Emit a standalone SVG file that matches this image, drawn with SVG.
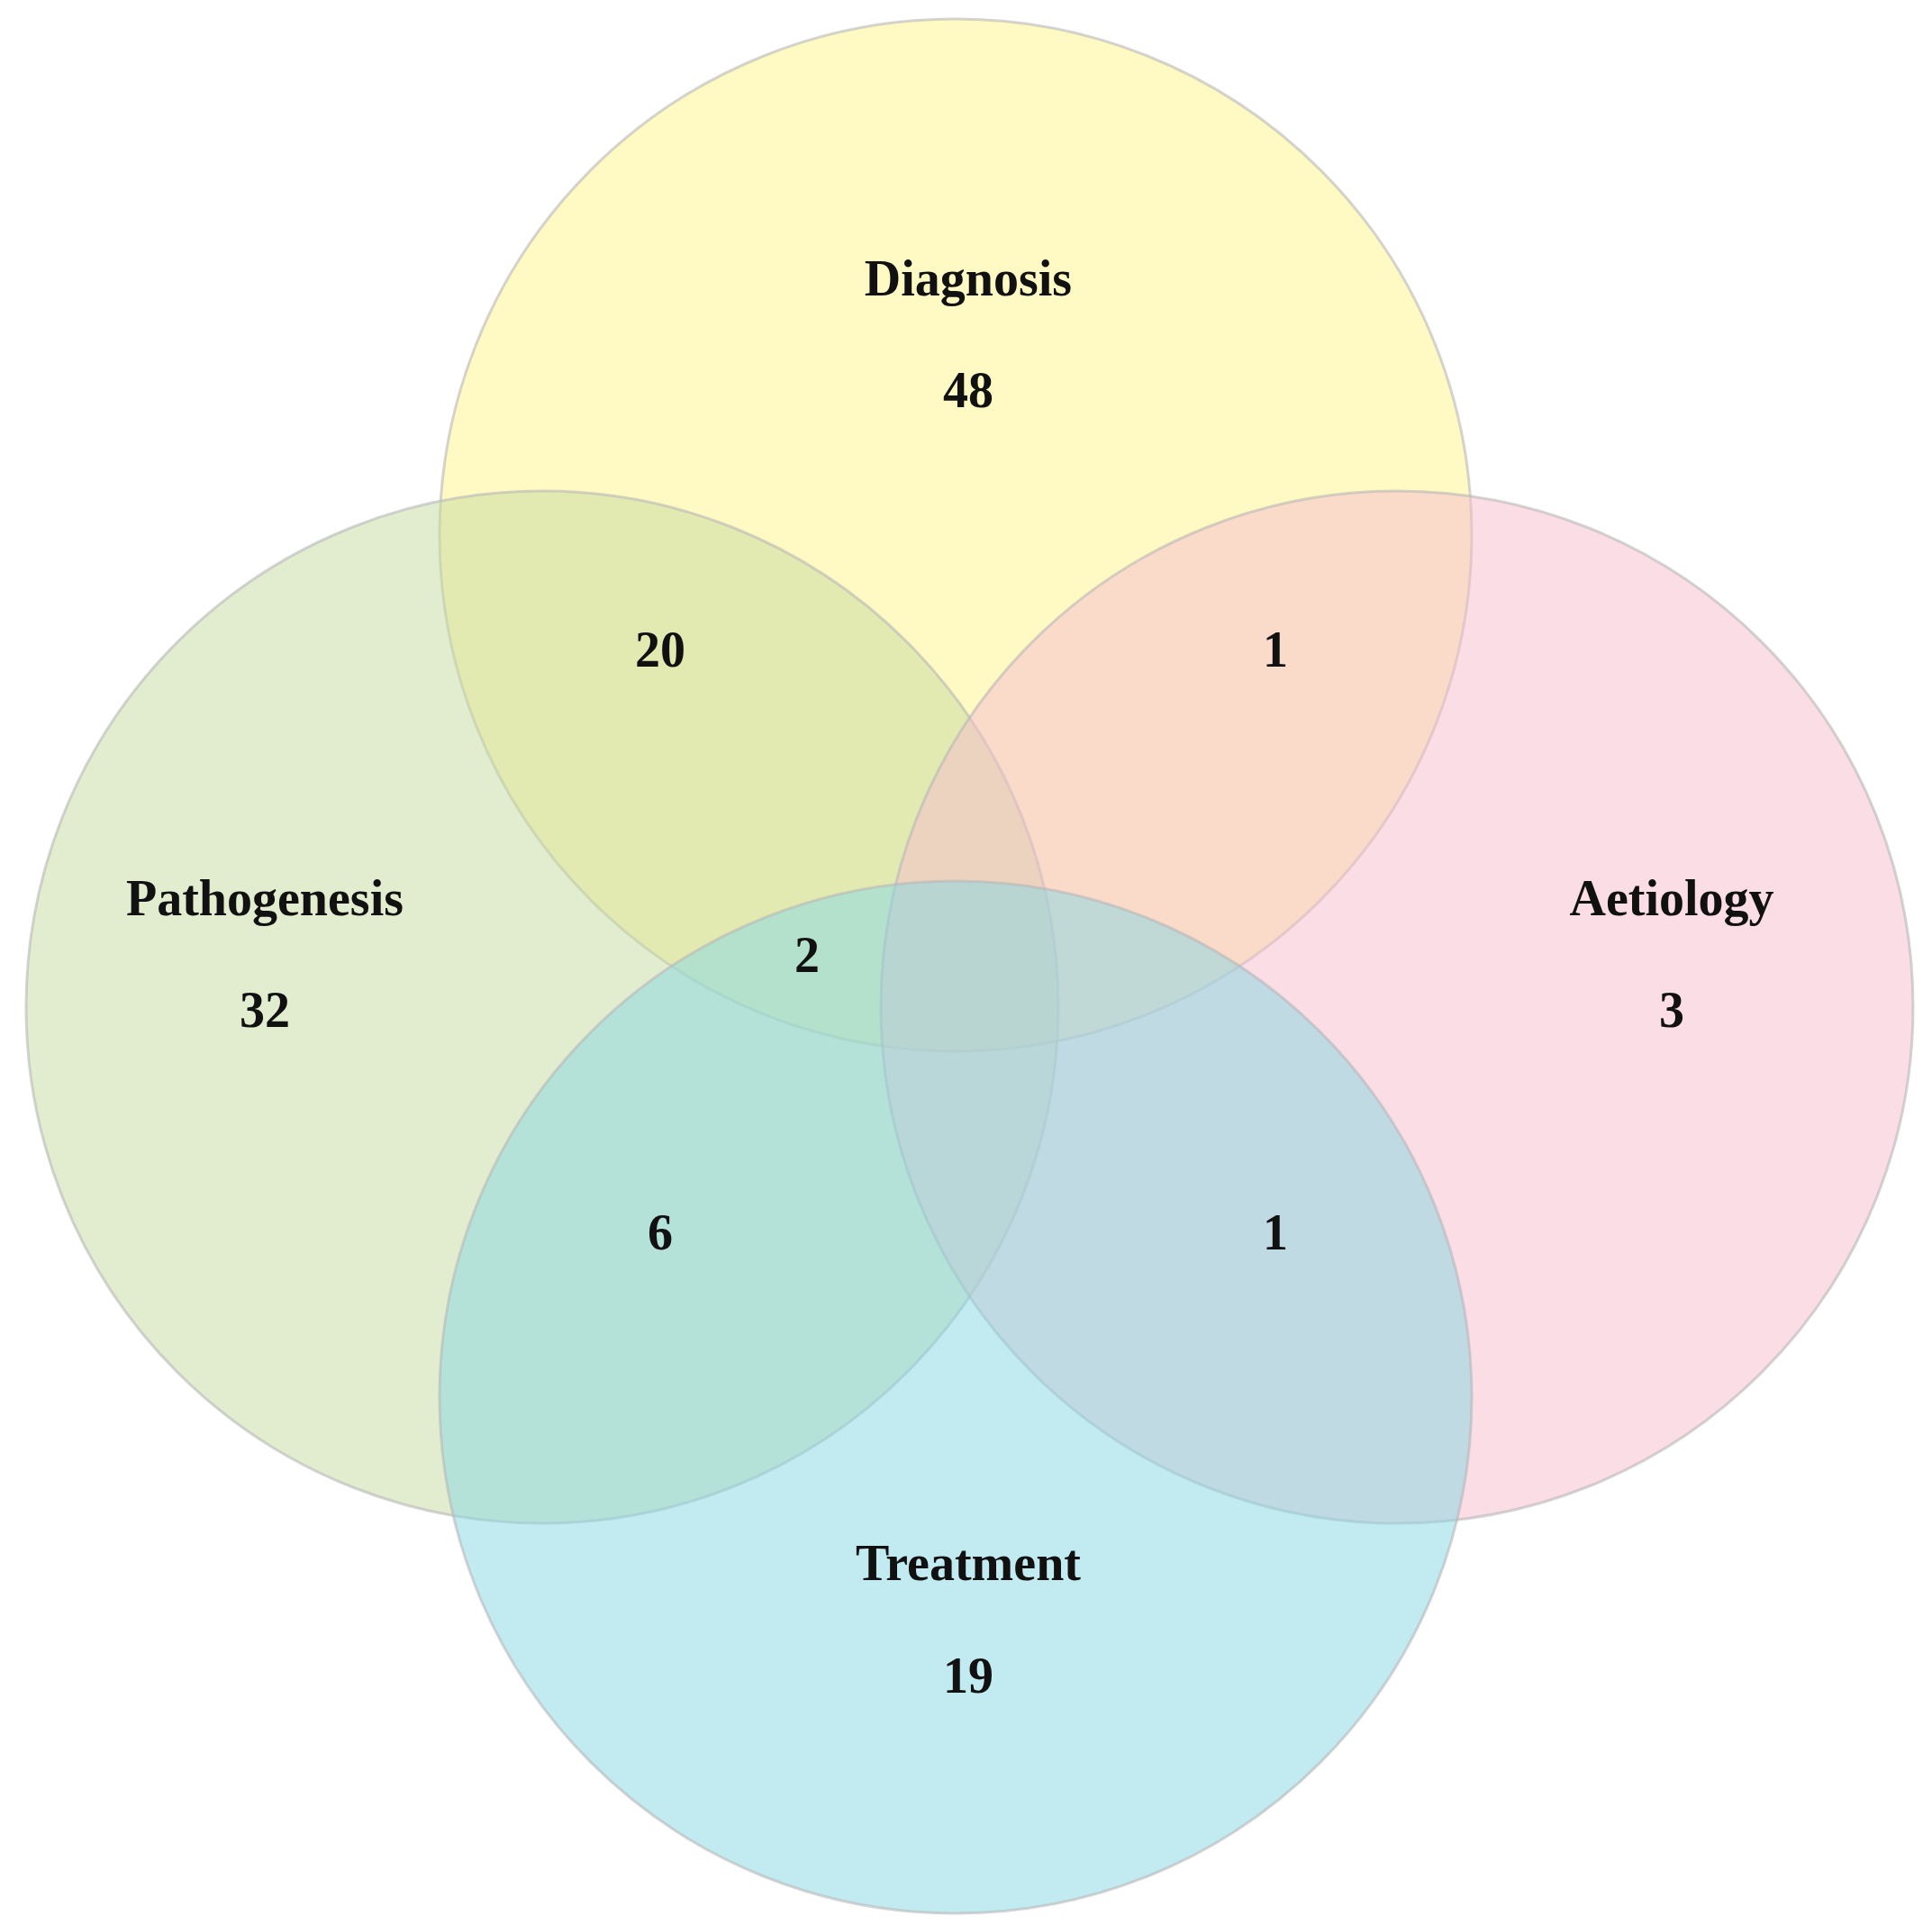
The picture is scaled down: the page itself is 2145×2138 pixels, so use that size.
<svg xmlns="http://www.w3.org/2000/svg" width="2145" height="2138" viewBox="0 0 2145 2138">
<style>
.c{stroke:#b8b8b8;stroke-width:3;stroke-opacity:0.6}
text{font-family:"Liberation Serif","DejaVu Serif",serif;font-weight:bold;font-size:56px;fill:#111;text-anchor:middle;dominant-baseline:central}
</style>
<rect width="2145" height="2138" fill="#fff"/>
<g id="diagnosis"><circle class="c" cx="1061" cy="594" r="573" fill="#fff48a" fill-opacity="0.5"/></g>
<g id="pathogenesis"><circle class="c" cx="602" cy="1118" r="573" fill="#c5dba0" fill-opacity="0.5"/></g>
<g id="aetiology"><circle class="c" cx="1551" cy="1118" r="573" fill="#f5bccb" fill-opacity="0.5"/></g>
<g id="treatment"><circle class="c" cx="1061" cy="1551" r="573" fill="#86d8e4" fill-opacity="0.5"/></g>
<g id="connectors"></g>
<g id="labels">
<text x="1075" y="309">Diagnosis</text>
<text x="1075" y="433">48</text>
<text x="733" y="721">20</text>
<text x="1416" y="721">1</text>
<text x="294" y="997">Pathogenesis</text>
<text x="294" y="1121">32</text>
<text x="1856" y="997">Aetiology</text>
<text x="1856" y="1121">3</text>
<text x="896" y="1060">2</text>
<text x="733" y="1368">6</text>
<text x="1416" y="1368">1</text>
<text x="1075" y="1735">Treatment</text>
<text x="1075" y="1860">19</text>
</g>
</svg>
